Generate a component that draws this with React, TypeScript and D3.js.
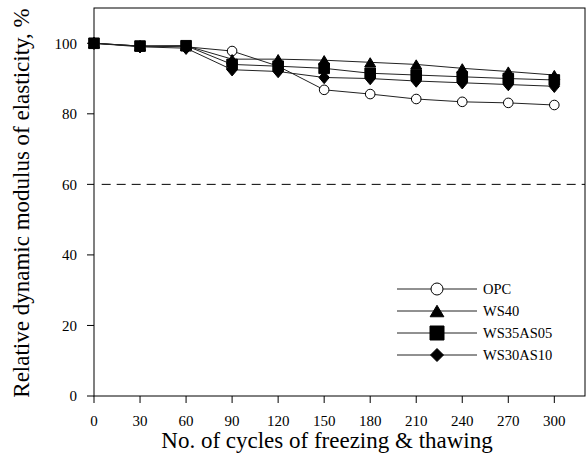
import React from 'react';
import * as d3 from 'd3';

// cycles of freezing & thawing
const cycles = [0, 30, 60, 90, 120, 150, 180, 210, 240, 270, 300];

const opc = [100, 99.2, 99.0, 97.8, 93.5, 86.8, 85.6, 84.2, 83.4, 83.1, 82.5];
const ws40 = [100, 99.2, 99.3, 95.5, 95.5, 95.2, 94.6, 94.0, 92.9, 92.0, 91.0];
const ws35as05 = [100, 99.2, 99.3, 94.0, 93.5, 92.9, 91.5, 91.0, 90.5, 90.0, 89.6];
const ws30as10 = [100, 99.0, 98.6, 92.5, 92.0, 90.3, 90.0, 89.3, 88.8, 88.3, 87.8];

const seriesNames = ['OPC', 'WS40', 'WS35AS05', 'WS30AS10'];
const seriesValues = [opc, ws40, ws35as05, ws30as10];
const markerKinds = ['circle', 'triangle', 'square', 'diamond'];

const xTicks = [0, 30, 60, 90, 120, 150, 180, 210, 240, 270, 300];
const yTicks = [0, 20, 40, 60, 80, 100];
const limitLine = 60;

const FONT = "'Liberation Serif', 'Times New Roman', Times, serif";

// marker path centred on 0,0
const markerPath = (kind: string, big: boolean) => {
  const k = big ? 1.25 : 1;
  if (kind === 'circle') {
    const r = 4.8 * k;
    return `M${-r},0A${r},${r} 0 1,0 ${r},0A${r},${r} 0 1,0 ${-r},0Z`;
  }
  if (kind === 'square') {
    const h = (big ? 7 : 5.3);
    return `M${-h},${-h}H${h}V${h}H${-h}Z`;
  }
  if (kind === 'triangle') {
    const w = 5.5 * k, h = 4.6 * k;
    return `M0,${-h}L${w},${h}L${-w},${h}Z`;
  }
  const w = big ? 6.5 : 5.2, h = big ? 6.5 : 6.2;
  return `M0,${-h}L${w},0L0,${h}L${-w},0Z`;
};

const App = () => {
  const width = 588;
  const height = 455;
  const left = 94, right = 585, top = 8, bottom = 396;

  const x = d3.scaleLinear().domain([0, 320]).range([left, right]);
  const y = d3.scaleLinear().domain([0, 110]).range([bottom, top]);

  const line = d3.line<number>()
    .x((_, i) => x(cycles[i]))
    .y(d => y(d));

  const legendY = [289, 311, 333, 355];

  return (
    <svg width={width} height={height}
      style={{ position: 'absolute', left: 0, top: 0, background: '#fff', fontFamily: FONT }}>
      <rect x={0} y={0} width={width} height={height} fill="#fff" />

      {/* limit line */}
      <line x1={x(5)} x2={right} y1={y(limitLine)} y2={y(limitLine)}
        stroke="#000" strokeWidth={1} strokeDasharray="9,6" />

      {/* series */}
      {seriesValues.map((vals, si) => (
        <g key={seriesNames[si]}>
          <path d={line(vals) || ''} fill="none" stroke="#222" strokeWidth={1} />
          {vals.map((v, i) => (
            <path key={i}
              transform={`translate(${x(cycles[i])},${y(v)})`}
              d={markerPath(markerKinds[si], false)}
              fill={markerKinds[si] === 'circle' ? '#fff' : '#000'}
              stroke="#000" strokeWidth={1} />
          ))}
        </g>
      ))}

      {/* frame */}
      <rect x={left} y={top} width={right - left} height={bottom - top}
        fill="none" stroke="#000" strokeWidth={1} />

      {/* y axis */}
      {yTicks.map(t => (
        <g key={t}>
          <line x1={left - 7} x2={left} y1={y(t)} y2={y(t)} stroke="#000" />
          <text x={77} y={y(t)} dy="0.35em" textAnchor="end" fontSize={15}>{t}</text>
        </g>
      ))}
      {/* x axis */}
      {xTicks.map(t => (
        <g key={t}>
          <line x1={x(t)} x2={x(t)} y1={bottom} y2={bottom + 7} stroke="#000" />
          <text x={x(t)} y={425.5} textAnchor="middle" fontSize={15}>{t}</text>
        </g>
      ))}

      <text x={327} y={448} textAnchor="middle" fontSize={23}>
        No. of cycles of freezing &amp; thawing
      </text>
      <text transform={`translate(29,203) rotate(-90)`} textAnchor="middle" fontSize={23}>
        Relative dynamic modulus of elasticity, %
      </text>

      {/* legend */}
      {seriesNames.map((name, si) => (
        <g key={name} transform={`translate(0,${legendY[si]})`}>
          <line x1={397} x2={477} y1={0} y2={0} stroke="#222" strokeWidth={1} />
          <path transform="translate(437,0)" d={markerPath(markerKinds[si], true)}
            fill={markerKinds[si] === 'circle' ? '#fff' : '#000'} stroke="#000" strokeWidth={1} />
          <text x={483} y={0} dy="0.35em" fontSize={14.5}>{name}</text>
        </g>
      ))}
    </svg>
  );
};

export default App;
